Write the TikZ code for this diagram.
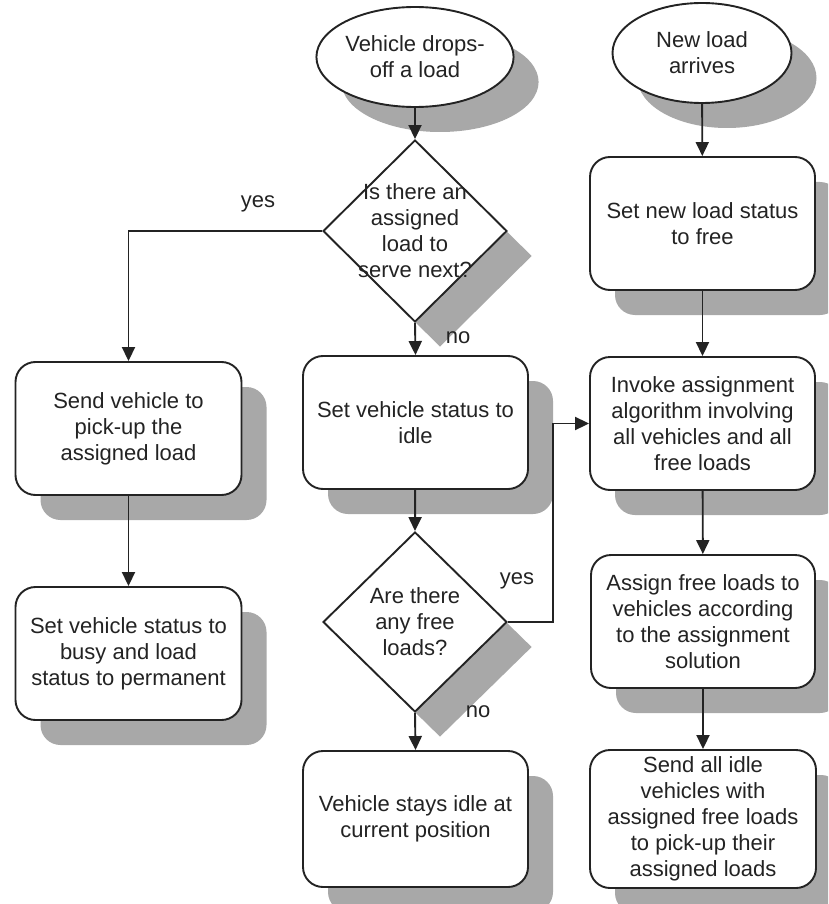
\documentclass[tikz,border=0pt]{standalone}
\usepackage{fontspec}
\setmainfont{Liberation Sans}
\usetikzlibrary{shapes.geometric,arrows.meta,shadows}
\definecolor{shade}{RGB}{168,168,168}
\definecolor{ink}{RGB}{35,35,35}
\tikzset{
  txt/.style={align=center, font=\fontsize{22}{26}\selectfont, text=ink, inner sep=0pt},
  base/.style={txt, draw=ink, line width=1.9pt, fill=white,
    drop shadow={shadow xshift=25pt, shadow yshift=-25pt, fill=shade, opacity=1}},
  oval/.style={base, ellipse},
  dia/.style={base, diamond},
  rbox/.style={base, rectangle, rounded corners=20pt, minimum width=226pt, minimum height=133pt},
  lbl/.style={txt},
  arr/.style={draw=ink, line width=1.9pt, -{Triangle[length=14pt,width=13pt]}},
  conn/.style={draw=ink, line width=1.9pt}
}
\begin{document}
\begin{tikzpicture}[x=1pt,y=-1pt]
\useasboundingbox (0,0) rectangle (828,904);
\fill[white] (0,0) rectangle (828,904);
\clip (0,0) rectangle (828,904);

% start events
\node[oval, minimum width=184pt, minimum height=100pt] (e1) at (415,57) {Vehicle drops-\\off a load};
\node[oval, minimum width=179pt, minimum height=100pt] (e2) at (702,53) {New load\\arrives};

% decisions
\node[dia, minimum width=184pt, minimum height=182pt,
      label={[txt]center:{Is there an\\assigned\\load to\\serve next?}}] (d1) at (415,231) {};
\node[dia, minimum width=184pt, minimum height=180pt,
      label={[txt]center:{Are there\\any free\\loads?}}] (d2) at (415,622) {};

% left column
\node[rbox] (bsend) at (128.5,428.5) {Send vehicle to\\pick-up the\\assigned load};
\node[rbox] (bbusy) at (128.5,653.5) {Set vehicle status to\\busy and load\\status to permanent};

% middle column
\node[rbox, minimum width=225pt] (bidle) at (415.5,422.5) {Set vehicle status to\\idle};
\node[rbox, minimum width=225pt, minimum height=136pt] (bstay) at (415.5,819) {Vehicle stays idle at\\current position};

% right column
\node[rbox, minimum width=225pt] (bfree) at (702.5,223.5) {Set new load status\\to free};
\node[rbox, minimum width=225pt] (binv) at (702.5,423.5) {Invoke assignment\\algorithm involving\\all vehicles and all\\free loads};
\node[rbox, minimum width=224pt] (bassign) at (703,621.5) {Assign free loads to\\vehicles according\\to the assignment\\solution};
\node[rbox, minimum width=226pt, minimum height=138pt] (bsendall) at (703,819) {Send all idle\\vehicles with\\assigned free loads\\to pick-up their\\assigned loads};

% labels
\node[lbl] (ly1) at (258,204) {yes};
\node[lbl] (ln1) at (458,338) {no};
\node[lbl] (ly2) at (517,581) {yes};
\node[lbl] (ln2) at (478,712) {no};

% connectors
\draw[arr] (e1) -- (d1);
\draw[arr] (d1.west) -| (bsend.north);
\draw[arr] (d1.south) -- (bidle.north);
\draw[arr] (bsend) -- (bbusy);
\draw[arr] (bidle) -- (d2.north);
\coordinate (j) at (553,622);
\draw[arr] (d2.east) -- (j) |- (binv.west);
\draw[arr] (d2.south) -- (bstay.north);
\draw[arr] (e2) -- (bfree);
\draw[arr] (bfree) -- (binv);
\draw[arr] (binv) -- (bassign);
\draw[arr] (bassign) -- (bsendall);
\end{tikzpicture}
\end{document}
